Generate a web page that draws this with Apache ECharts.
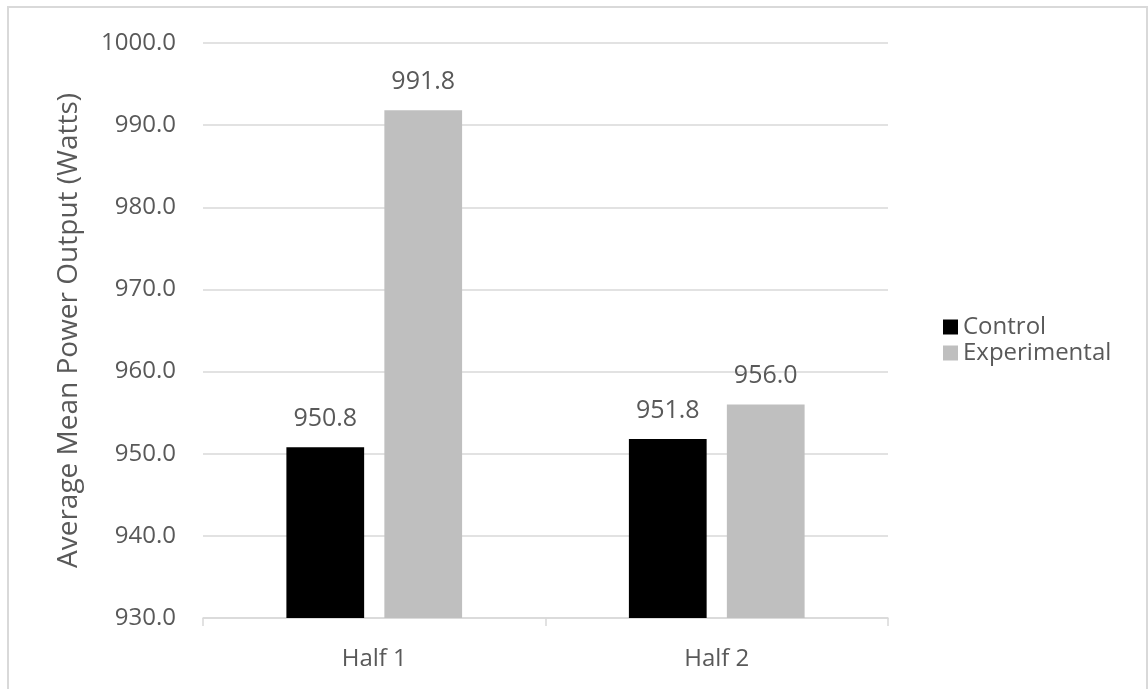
<!DOCTYPE html>
<html><head><meta charset="utf-8">
<script src="https://cdn.jsdelivr.net/npm/echarts@6/dist/echarts.min.js"></script>
<style>html,body{margin:0;padding:0;background:#fff}#c{width:1148px;height:689px}</style>
</head><body><div id="c"></div>
<script>
const categories = ["Half 1", "Half 2"];
const controlValues = [950.8, 951.8];
const experimentalValues = [991.8, 956.0];
const seriesNames = ["Control", "Experimental"];
const yTicks = {min: 930, max: 1000, interval: 10};

const font = "'Open Sans', 'Noto Sans', sans-serif";
const chart = echarts.init(document.getElementById('c'));
const lbl = {show: true, position: 'top', distance: 16, color: '#595959', fontSize: 25, fontFamily: font,
  formatter: p => p.value.toFixed(1)};
chart.setOption({
  animation: false,
  graphic: [{type: 'rect', shape: {x: 8, y: 7, width: 1139, height: 700}, style: {fill: 'none', stroke: '#d9d9d9', lineWidth: 2}}],
  grid: {left: 203, right: 260, top: 43, bottom: 71},
  legend: {orient: 'vertical', left: 938, top: 310, itemWidth: 15, itemHeight: 15, itemGap: 2,
    icon: 'rect', textStyle: {color: '#595959', fontSize: 24, fontFamily: font},
    data: seriesNames},
  xAxis: {type: 'category', data: categories,
    axisLine: {lineStyle: {color: '#d9d9d9', width: 1.5}},
    axisTick: {show: true, length: 8, lineStyle: {color: '#d9d9d9', width: 1.5}},
    axisLabel: {color: '#595959', fontSize: 24, fontFamily: font, margin: 29}},
  yAxis: {type: 'value', min: yTicks.min, max: yTicks.max, interval: yTicks.interval,
    name: 'Average Mean Power Output (Watts)', nameLocation: 'middle', nameGap: 120,
    nameTextStyle: {color: '#595959', fontSize: 28, fontFamily: font},
    axisLine: {show: false}, axisTick: {show: false},
    axisLabel: {color: '#595959', fontSize: 24, fontFamily: font, margin: 27, formatter: v => v.toFixed(1)},
    splitLine: {lineStyle: {color: '#d9d9d9', width: 1.5}}},
  series: [
    {name: seriesNames[0], type: 'bar', data: controlValues, barWidth: '22.7%', barGap: '26%',
      itemStyle: {color: '#000000'}, label: lbl},
    {name: seriesNames[1], type: 'bar', data: experimentalValues, barWidth: '22.7%',
      itemStyle: {color: '#bfbfbf'}, label: lbl}
  ]
});
</script></body></html>
